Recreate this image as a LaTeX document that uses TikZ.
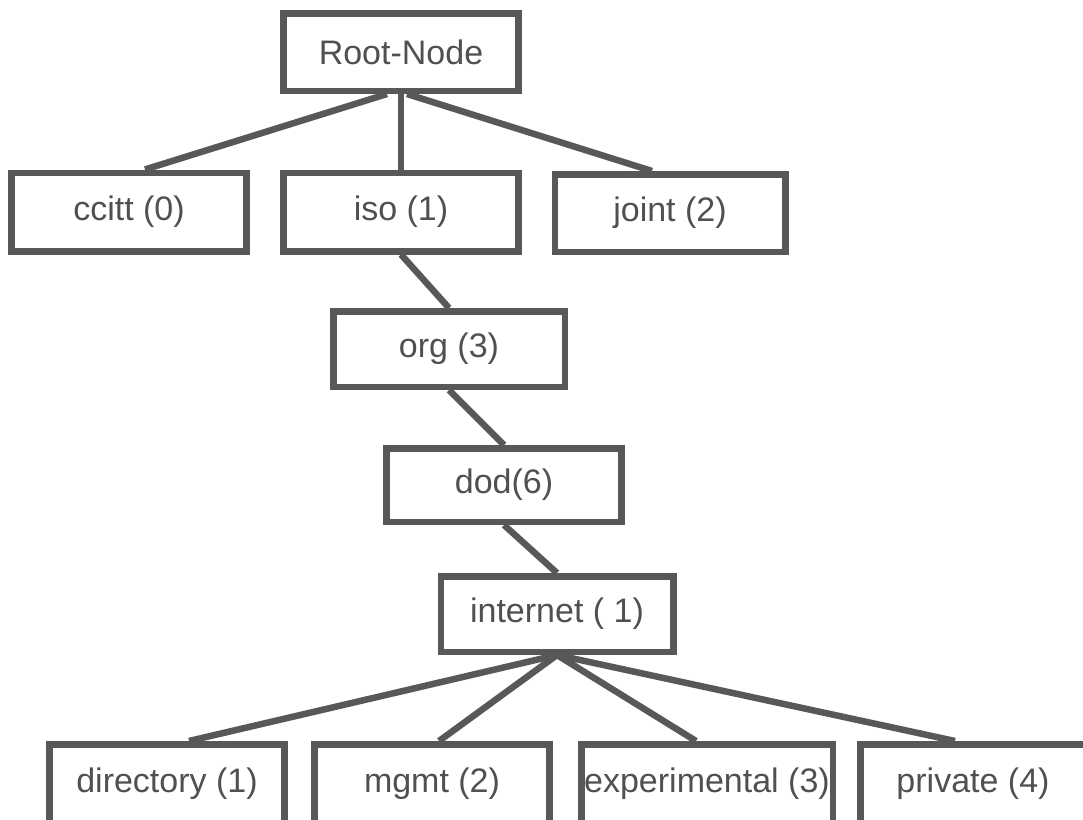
\documentclass[tikz,border=0pt]{standalone}
\usepackage{fontspec}
\setmainfont{Liberation Sans}
\definecolor{boxgray}{HTML}{58585A}
\definecolor{textgray}{HTML}{505050}
\tikzset{
    oidbox/.style={draw=boxgray, line width=3.25pt, text=textgray,
        font=\fontsize{17pt}{20pt}\selectfont, inner sep=0pt,
        minimum width=117.5pt, minimum height=38.75pt},
    oidline/.style={draw=boxgray, line width=3.25pt}
}

\begin{document}
\begin{tikzpicture}[x=0.5pt, y=-0.5pt] % one unit = one pixel
            \useasboundingbox (0,0) rectangle (1083,820);
            \node[oidbox] (root) at (401,52) {Root-Node};
            \node[oidbox, minimum height=39.25pt] (ccitt) at (129,212) {ccitt (0)};
            \node[oidbox, minimum height=39.25pt] (iso) at (401,212) {iso (1)};
            \node[oidbox, minimum width=115.25pt] (joint) at (670,213) {joint (2)};
            \node[oidbox, minimum width=115.75pt, minimum height=37.75pt] (org) at (449,349) {org (3)};
            \node[oidbox, minimum height=36.75pt] (dod) at (504,485) {dod(6)};
            \node[oidbox, minimum width=116.25pt, minimum height=37.75pt] (internet) at (557,614) {internet ( 1)};
            % bottom row runs off the page
            \node[oidbox, minimum height=39.75pt] (directory) at (167,784) {directory (1)};
            \node[oidbox, minimum height=39.75pt] (mgmt) at (432,784) {mgmt (2)};
            \node[oidbox, minimum width=125.75pt, minimum height=39.75pt] (experimental) at (707,784) {experimental (3)};
            \node[oidbox, minimum width=112.75pt, minimum height=39.75pt] (private) at (973,784) {private (4)};
            \draw[oidline] ([xshift=-7pt]root.south) -- ([xshift=8pt]ccitt.north);
            \draw[oidline] (root.south) -- (iso.north);
            \draw[oidline] ([xshift=3pt]root.south) -- ([xshift=-9pt]joint.north);
            \draw[oidline] (iso.south) -- (org.north);
            \draw[oidline] (org.south) -- (dod.north);
            \draw[oidline] (dod.south) -- (internet.north);
            \foreach \child/\shift in {directory/11pt, mgmt/3.5pt, experimental/-5.5pt, private/-9pt}
                \draw[oidline] (internet.south) -- ([xshift=\shift]\child.north);
        \end{tikzpicture}
\end{document}
